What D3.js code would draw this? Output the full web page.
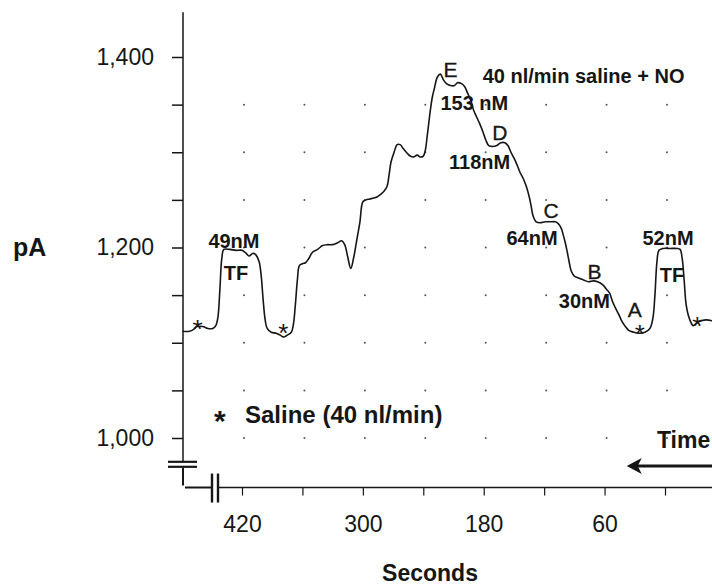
<!DOCTYPE html>
<html>
<head>
<meta charset="utf-8">
<script src="https://cdn.jsdelivr.net/npm/d3@7"></script>
<style>
  body { margin: 0; background: #fff; }
  svg { display: block; font-family: "Liberation Sans", Arial, Helvetica, sans-serif; }
</style>
</head>
<body>
<div id="chart"></div>
<script>
// trace (seconds count down to the right)
const seconds = [479, 472, 468, 465, 459, 454, 449, 446, 444, 442, 440, 438, 432, 426, 420, 416, 413, 409, 406, 403,
  401, 399, 397, 395, 391, 386, 382, 379, 375, 371, 369, 367, 365, 363, 360, 357, 354, 350, 345, 340,
  335, 330, 325, 321, 318, 315, 312, 309, 306, 303, 300, 297, 293, 289, 286, 282, 279, 276, 274, 272,
  269, 266, 263, 260, 256, 253, 250, 246, 243, 240, 238, 236, 233, 231, 229, 226, 223, 220, 217, 213,
  209, 206, 202, 199, 196, 193, 190, 187, 184, 181, 178, 175, 171, 167, 163, 159, 156, 153, 150, 147,
  144, 141, 138, 135, 133, 131, 128, 124, 119, 114, 109, 106, 103, 101, 99, 97, 95, 93, 90, 86,
  81, 76, 71, 67, 62, 58, 55, 52, 49, 46, 43, 40, 36, 31, 25, 20, 15, 12, 10, 8,
  6, 2, -5, -12, -15, -17, -19, -21, -24, -28, -32, -36, -41, -47];
const current = [1112, 1112, 1114, 1117, 1117, 1115, 1115, 1118, 1126, 1155, 1189, 1198, 1198, 1197, 1197, 1194, 1191, 1194, 1192, 1185,
  1171, 1145, 1124, 1115, 1111, 1110, 1108, 1106, 1108, 1111, 1119, 1140, 1166, 1181, 1183, 1184, 1188, 1195, 1198, 1202,
  1203, 1203, 1205, 1207, 1203, 1190, 1178, 1190, 1208, 1226, 1248, 1250, 1251, 1252, 1253, 1256, 1259, 1264, 1276, 1290,
  1300, 1308, 1308, 1304, 1299, 1296, 1295, 1297, 1295, 1296, 1302, 1318, 1344, 1358, 1367, 1379, 1382, 1376, 1372, 1370,
  1370, 1373, 1372, 1369, 1362, 1355, 1344, 1337, 1330, 1322, 1313, 1307, 1306, 1307, 1310, 1310, 1307, 1300, 1294, 1287,
  1279, 1273, 1265, 1254, 1244, 1233, 1227, 1226, 1227, 1227, 1227, 1225, 1220, 1213, 1205, 1195, 1184, 1175, 1170, 1168,
  1166, 1164, 1165, 1164, 1161, 1156, 1152, 1143, 1136, 1130, 1123, 1118, 1113, 1111, 1110, 1111, 1115, 1126, 1150, 1185,
  1197, 1199, 1199, 1199, 1198, 1189, 1166, 1140, 1126, 1118, 1121, 1123, 1124, 1123];

const xTicks = [420, 360, 300, 240, 180, 120, 60, 0];
const xLabels = [420, 300, 180, 60];
const yTicks = [1000, 1050, 1100, 1150, 1200, 1250, 1300, 1350, 1400];
const yLabels = [1000, 1200, 1400];
const gridRows = [1000, 1050, 1100, 1150, 1200, 1250, 1300, 1350];

// saline marks (*) on the trace
const salineS = [464, 379, 25, -32];
const salineA = [1121, 1117, 1115, 1124];

// concentration step labels
const stepText = ["49nM", "TF", "153 nM", "118nM", "64nM", "30nM", "52nM", "TF"];
const stepS = [428, 426, 223, 184, 132, 80, -3, -7];
const stepA = [1199, 1166, 1344, 1282, 1203, 1136, 1203, 1164];
const stepAnchor = ["middle", "middle", "start", "middle", "middle", "middle", "middle", "middle"];

const letterText = ["E", "D", "C", "B", "A"];
const letterS = [213, 164, 113, 70, 30];
const letterA = [1379, 1313, 1231, 1167, 1127];

const width = 712, height = 587;

const x = d3.scaleLinear().domain([420, 0]).range([242, 665]);
const y = d3.scaleLinear().domain([1000, 1400]).range([438, 57]);

const svg = d3.select("#chart").append("svg")
  .attr("width", width)
  .attr("height", height);

const ink = "#161616";
const axisX = 183;
const baseY = y(948);

// dot grid
svg.append("g")
  .attr("fill", "#555")
  .selectAll("circle")
  .data(d3.cross(xTicks, gridRows))
  .join("circle")
  .attr("cx", d => x(d[0]) + 2)
  .attr("cy", d => y(d[1]))
  .attr("r", 1);

// y axis
const yAxis = svg.append("g")
  .attr("transform", `translate(${axisX},0)`)
  .call(d3.axisLeft(y)
    .tickValues(yTicks)
    .tickSize(11)
    .tickPadding(18)
    .tickFormat(d => yLabels.includes(d) ? d3.format(",")(d) : ""));
yAxis.select(".domain").remove();
yAxis.selectAll(".tick line").attr("stroke", ink).attr("stroke-width", 1.5);
yAxis.selectAll(".tick text")
  .attr("font-size", 23)
  .attr("font-family", "Liberation Sans, Arial, sans-serif")
  .attr("fill", ink);

const breakTop = y(975);
svg.append("line")
  .attr("x1", axisX).attr("x2", axisX)
  .attr("y1", y(1447)).attr("y2", breakTop)
  .attr("stroke", ink).attr("stroke-width", 1.5);
svg.append("g")
  .attr("stroke", ink).attr("stroke-width", 2.2)
  .selectAll("line")
  .data([0, 5])
  .join("line")
  .attr("x1", axisX - 15).attr("x2", axisX + 14)
  .attr("y1", d => breakTop + d).attr("y2", d => breakTop + d);
svg.append("path")
  .attr("fill", "none")
  .attr("stroke", ink).attr("stroke-width", 2)
  .attr("d", `M${axisX},${breakTop + 6}V${baseY - 2}M${axisX + 2},${baseY}H${axisX + 28}`);

// x axis
const xBreak = 212;
const xAxis = svg.append("g")
  .attr("transform", `translate(0,${baseY})`)
  .call(d3.axisBottom(x)
    .tickValues(xTicks)
    .tickSize(8)
    .tickPadding(20)
    .tickFormat(d => xLabels.includes(d) ? d : ""));
xAxis.select(".domain").remove();
xAxis.selectAll(".tick line").attr("stroke", ink).attr("stroke-width", 1.2);
xAxis.selectAll(".tick text")
  .attr("font-size", 23)
  .attr("font-family", "Liberation Sans, Arial, sans-serif")
  .attr("fill", ink);

svg.append("line")
  .attr("x1", xBreak + 7).attr("x2", width)
  .attr("y1", baseY).attr("y2", baseY)
  .attr("stroke", ink).attr("stroke-width", 1.5);
svg.append("g")
  .attr("stroke", ink).attr("stroke-width", 2.4)
  .selectAll("line")
  .data([0, 6])
  .join("line")
  .attr("x1", d => xBreak + d).attr("x2", d => xBreak + d)
  .attr("y1", baseY - 14).attr("y2", baseY + 15);

// trace
const line = d3.line()
  .x(d => x(d[0]))
  .y(d => y(d[1]))
  .curve(d3.curveCatmullRom.alpha(0.5));

svg.append("path")
  .datum(d3.zip(seconds, current))
  .attr("fill", "none")
  .attr("stroke", ink)
  .attr("stroke-width", 1.6)
  .attr("stroke-linejoin", "round")
  .attr("d", line);

// annotations
svg.append("g")
  .attr("font-size", 26)
  .attr("fill", ink)
  .selectAll("text")
  .data(d3.zip(salineS, salineA))
  .join("text")
  .attr("x", d => x(d[0]))
  .attr("y", d => y(d[1]))
  .attr("dy", 15)
  .attr("text-anchor", "middle")
  .text("*");

svg.append("g")
  .attr("font-size", 20)
  .attr("font-weight", "bold")
  .attr("fill", ink)
  .selectAll("text")
  .data(d3.range(stepText.length))
  .join("text")
  .attr("x", i => x(stepS[i]))
  .attr("y", i => y(stepA[i]))
  .attr("text-anchor", i => stepAnchor[i])
  .text(i => stepText[i]);

svg.append("g")
  .attr("font-size", 21)
  .attr("fill", ink)
  .attr("stroke", ink)
  .attr("stroke-width", 0.3)
  .selectAll("text")
  .data(d3.range(letterText.length))
  .join("text")
  .attr("x", i => x(letterS[i]))
  .attr("y", i => y(letterA[i]))
  .attr("text-anchor", "middle")
  .text(i => letterText[i]);

svg.append("text")
  .attr("x", x(181)).attr("y", y(1373))
  .attr("font-size", 20).attr("font-weight", "bold").attr("fill", ink)
  .text("40 nl/min saline + NO");

svg.append("text")
  .attr("x", x(442)).attr("y", y(1016))
  .attr("dy", 8)
  .attr("font-size", 30).attr("font-weight", "bold").attr("fill", ink)
  .attr("text-anchor", "middle")
  .text("*");
svg.append("text")
  .attr("x", x(417)).attr("y", y(1016))
  .attr("font-size", 24).attr("font-weight", "bold").attr("fill", ink)
  .text("Saline (40 nl/min)");

// time arrow
svg.append("text")
  .attr("x", x(8)).attr("y", y(989))
  .attr("font-size", 23).attr("font-weight", "bold").attr("fill", ink)
  .text("Time");
const arrowY = y(970.6), tip = x(38);
svg.append("line")
  .attr("x1", tip + 10).attr("x2", width)
  .attr("y1", arrowY).attr("y2", arrowY)
  .attr("stroke", ink).attr("stroke-width", 3);
svg.append("path")
  .attr("fill", ink)
  .attr("d", `M${tip},${arrowY}L${tip + 15},${arrowY - 8}L${tip + 11},${arrowY}L${tip + 15},${arrowY + 8}Z`);

// axis titles
svg.append("text")
  .attr("x", 13).attr("y", y(1191))
  .attr("font-size", 25).attr("font-weight", "bold").attr("fill", ink)
  .text("pA");
svg.append("text")
  .attr("x", 430).attr("y", 581)
  .attr("font-size", 23).attr("font-weight", "bold").attr("fill", ink)
  .attr("text-anchor", "middle")
  .text("Seconds");
</script>
</body>
</html>
